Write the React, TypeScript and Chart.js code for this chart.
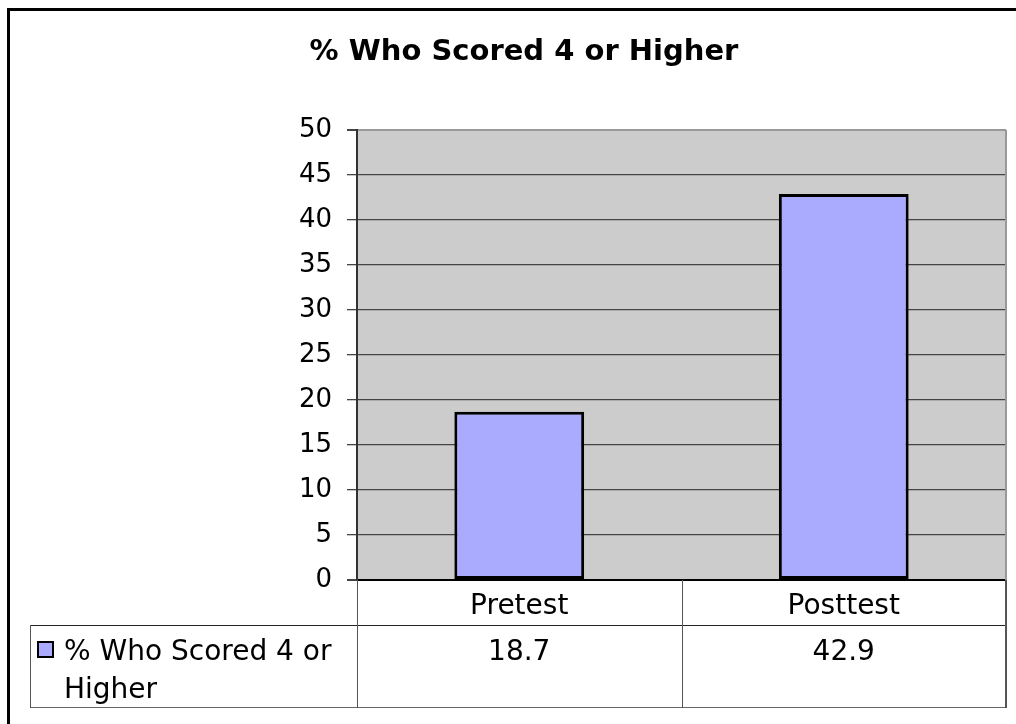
import React, { useEffect, useRef } from "react";
import { Chart, registerables } from "chart.js";

Chart.register(...registerables);

const chartTitle = "% Who Scored 4 or Higher";
const categories = ["Pretest", "Posttest"];
const seriesName = "% Who Scored 4 or Higher";
const seriesValues = [18.7, 42.9];
const seriesValueLabels = ["18.7", "42.9"];
const legendLabelLines = ["% Who Scored 4 or", "Higher"];
const yMin = 0;
const yMax = 50;
const yStep = 5;

const FONT = "'DejaVu Sans', Verdana, sans-serif";
const BAR_FILL = "#AAAAFF";

const tablePlugin = {
  id: "tablePlugin",
  beforeDraw(chart: any) {
    const { ctx, chartArea } = chart;
    ctx.save();
    ctx.fillStyle = "#CCCCCC";
    ctx.fillRect(chartArea.left, chartArea.top, chartArea.right - chartArea.left, chartArea.bottom - chartArea.top);
    ctx.restore();
  },
  afterDraw(chart: any) {
    const { ctx, chartArea } = chart;
    const xs = chart.scales.x;
    const left = chartArea.left;
    const right = chartArea.right;
    const bottom = chartArea.bottom;
    ctx.save();

    // plot right border
    ctx.strokeStyle = "#999999";
    ctx.lineWidth = 2;
    ctx.beginPath();
    ctx.moveTo(right, chartArea.top);
    ctx.lineTo(right, bottom);
    ctx.stroke();

    // title
    ctx.fillStyle = "#000";
    ctx.font = `bold 29px ${FONT}`;
    ctx.textAlign = "center";
    ctx.textBaseline = "alphabetic";
    ctx.fillText(chartTitle, 524, 60);

    // table geometry
    const n = categories.length;
    const centers = categories.map((_, i) => xs.getPixelForValue(i));
    const bounds: number[] = [left];
    for (let i = 0; i < n - 1; i++) bounds.push((centers[i] + centers[i + 1]) / 2);
    bounds.push(right);
    const row1Bottom = 625;
    const row2Bottom = 707;
    const legendLeft = 30;

    // horizontal lines
    ctx.lineWidth = 1;
    ctx.strokeStyle = "#222";
    ctx.beginPath();
    ctx.moveTo(legendLeft, row1Bottom + 0.5);
    ctx.lineTo(right, row1Bottom + 0.5);
    ctx.stroke();
    ctx.strokeStyle = "#666";
    ctx.beginPath();
    ctx.moveTo(legendLeft, row2Bottom + 0.5);
    ctx.lineTo(right, row2Bottom + 0.5);
    ctx.stroke();

    // vertical lines
    ctx.strokeStyle = "#555";
    bounds.forEach((bx, i) => {
      ctx.beginPath();
      ctx.lineWidth = i === bounds.length - 1 ? 2 : 1;
      const x = i === bounds.length - 1 ? bx : Math.round(bx) + 0.5;
      ctx.moveTo(x, bottom);
      ctx.lineTo(x, row2Bottom + 1);
      ctx.stroke();
    });
    ctx.lineWidth = 1;
    ctx.beginPath();
    ctx.moveTo(legendLeft + 0.5, row1Bottom);
    ctx.lineTo(legendLeft + 0.5, row2Bottom + 1);
    ctx.stroke();

    // category labels & values
    ctx.font = `28px ${FONT}`;
    ctx.fillStyle = "#000";
    ctx.textAlign = "center";
    categories.forEach((c, i) => {
      const cx = (bounds[i] + bounds[i + 1]) / 2;
      ctx.fillText(c, cx, 614);
      ctx.fillText(seriesValueLabels[i], cx, 660);
    });

    // legend swatch + label
    ctx.fillStyle = BAR_FILL;
    ctx.fillRect(38, 642, 15, 15);
    ctx.strokeStyle = "#000";
    ctx.lineWidth = 2;
    ctx.strokeRect(38, 642, 15, 15);
    ctx.fillStyle = "#000";
    ctx.textAlign = "left";
    legendLabelLines.forEach((line, i) => {
      ctx.fillText(line, 64, 660 + i * 38);
    });

    ctx.restore();
  },
};

export default function App() {
  const canvasRef = useRef<HTMLCanvasElement | null>(null);

  useEffect(() => {
    if (!canvasRef.current) return;
    const chart = new Chart(canvasRef.current, {
      type: "bar",
      data: {
        labels: categories,
        datasets: [
          {
            label: seriesName,
            data: seriesValues,
            backgroundColor: BAR_FILL,
            borderColor: "#000000",
            borderWidth: 3,
            borderSkipped: false,
            barPercentage: 0.4,
            categoryPercentage: 1.0,
          },
        ],
      },
      options: {
        animation: false,
        responsive: true,
        maintainAspectRatio: false,
        layout: { padding: { left: 0, right: 10, top: 130, bottom: 144 } },
        plugins: {
          legend: { display: false },
          title: { display: false },
          tooltip: { enabled: false },
        },
        scales: {
          x: { display: false },
          y: {
            min: yMin,
            max: yMax,
            afterFit: (s: any) => {
              s.width = 357;
            },
            ticks: {
              stepSize: yStep,
              color: "#000",
              padding: 15,
              font: { family: FONT, size: 26 },
            },
            border: { display: true, color: "#333", width: 2 },
            grid: {
              drawTicks: true,
              tickLength: 10,
              tickColor: "#444",
              color: (c: any) =>
                c.tick && c.tick.value === yMax ? "#999999" : c.tick && c.tick.value === yMin ? "#000000" : "#444444",
              lineWidth: (c: any) => (c.tick && (c.tick.value === yMin || c.tick.value === yMax) ? 2 : 1.3),
            },
          },
        },
      },
      plugins: [tablePlugin],
    });
    return () => chart.destroy();
  }, []);

  return (
    <div style={{ position: "fixed", left: 0, top: 0, width: 1016, height: 724, overflow: "hidden", background: "#fff" }}>
      <div
        style={{
          position: "absolute",
          left: 7,
          top: 8,
          width: 1040,
          height: 740,
          border: "3px solid #000",
          boxSizing: "border-box",
          background: "#fff",
        }}
      />
      <div style={{ position: "absolute", left: 0, top: 0, width: 1016, height: 724 }}>
        <canvas ref={canvasRef} />
      </div>
    </div>
  );
}
